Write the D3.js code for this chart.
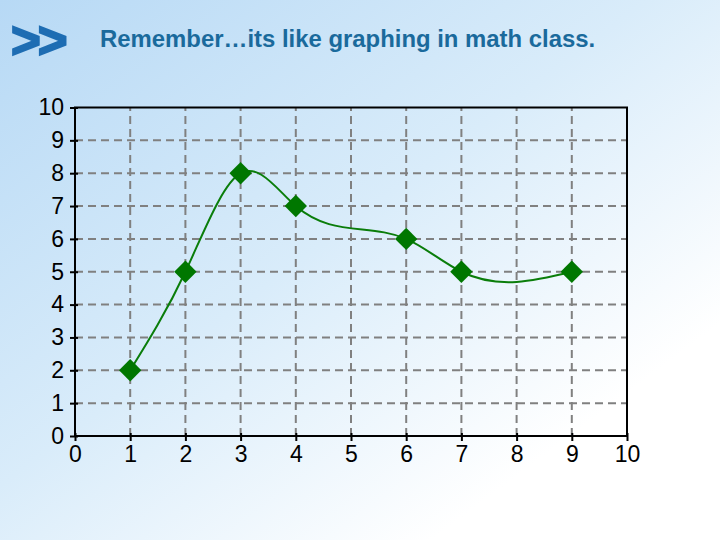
<!DOCTYPE html>
<html>
<head>
<meta charset="utf-8">
<script src="https://cdn.jsdelivr.net/npm/d3@7"></script>
<style>
  html, body { margin: 0; padding: 0; background: #fff; }
  svg { display: block; }
</style>
</head>
<body>
<script>
// data
var xValues = [1, 2, 3, 4, 6, 7, 9];
var yValues = [2, 5, 8, 7, 6, 5, 5];
var tickValues = [0, 1, 2, 3, 4, 5, 6, 7, 8, 9, 10];
var titleText = "Remember\u2026its like graphing in math class.";

var width = 720;
var height = 540;
var margin = { top: 107.5, right: 93, bottom: 104, left: 75 };

// natural cubic spline of y as a function of x, drawn as bezier pieces
// (the old chart program smooths this way, d3.curveNatural goes by index)
function curveSplineX(context) {
  var xs, ys;
  return {
    areaStart: function () {},
    areaEnd: function () {},
    lineStart: function () { xs = []; ys = []; },
    point: function (x, y) { xs.push(+x); ys.push(+y); },
    lineEnd: function () {
      var n = xs.length;
      if (!n) return;
      context.moveTo(xs[0], ys[0]);
      if (n < 3) {
        if (n === 2) context.lineTo(xs[1], ys[1]);
        return;
      }
      var h = [], s = [];
      for (var i = 0; i < n - 1; i++) {
        h[i] = xs[i + 1] - xs[i];
        s[i] = (ys[i + 1] - ys[i]) / h[i];
      }
      // second derivatives, natural ends (tridiagonal solve)
      var M = new Array(n).fill(0);
      var a = [], b = [], c = [], r = [];
      for (i = 1; i < n - 1; i++) {
        a.push(h[i - 1]);
        b.push(2 * (h[i - 1] + h[i]));
        c.push(h[i]);
        r.push(6 * (s[i] - s[i - 1]));
      }
      var m = b.length;
      for (i = 1; i < m; i++) {
        var w = a[i] / b[i - 1];
        b[i] -= w * c[i - 1];
        r[i] -= w * r[i - 1];
      }
      var sol = new Array(m);
      sol[m - 1] = r[m - 1] / b[m - 1];
      for (i = m - 2; i >= 0; i--) sol[i] = (r[i] - c[i] * sol[i + 1]) / b[i];
      for (i = 0; i < m; i++) M[i + 1] = sol[i];

      for (i = 0; i < n - 1; i++) {
        var d0 = s[i] - h[i] * (2 * M[i] + M[i + 1]) / 6;
        var d1 = s[i] + h[i] * (M[i] + 2 * M[i + 1]) / 6;
        context.bezierCurveTo(
          xs[i] + h[i] / 3, ys[i] + d0 * h[i] / 3,
          xs[i + 1] - h[i] / 3, ys[i + 1] - d1 * h[i] / 3,
          xs[i + 1], ys[i + 1]);
      }
    }
  };
}

var svg = d3.select("body").append("svg")
  .attr("width", width)
  .attr("height", height);

// slide background
var defs = svg.append("defs");
var grad = defs.append("linearGradient")
  .attr("id", "bg")
  .attr("x1", "0%").attr("y1", "0%")
  .attr("x2", "100%").attr("y2", "100%");
grad.append("stop").attr("offset", "0%").attr("stop-color", "#b7d9f5");
grad.append("stop").attr("offset", "45%").attr("stop-color", "#d9ecfa");
grad.append("stop").attr("offset", "80%").attr("stop-color", "#ffffff");

svg.append("rect")
  .attr("width", width)
  .attr("height", height)
  .attr("fill", "url(#bg)");

// header
svg.append("text")
  .attr("x", 11)
  .attr("y", 58)
  .attr("font-family", "Arial, 'Liberation Sans', sans-serif")
  .attr("font-weight", "bold")
  .attr("font-size", 51)
  .attr("letter-spacing", -3)
  .attr("fill", "#1e6db3")
  .attr("stroke", "#1e6db3")
  .attr("stroke-width", 2)
  .attr("stroke-linejoin", "miter")
  .text(">>");

svg.append("text")
  .attr("x", 100)
  .attr("y", 47)
  .attr("font-family", "Arial, 'Liberation Sans', sans-serif")
  .attr("font-weight", "bold")
  .attr("font-size", 23.9)
  .attr("fill", "#1a6a9c")
  .text(titleText);

var innerW = width - margin.left - margin.right;
var innerH = height - margin.top - margin.bottom;

var x = d3.scaleLinear().domain([0, 10]).range([0, innerW]);
var y = d3.scaleLinear().domain([0, 10]).range([innerH, 0]);

var g = svg.append("g")
  .attr("transform", "translate(" + margin.left + "," + margin.top + ")");

// dashed grid
var gridVals = tickValues.filter(function (d) { return d > 0 && d < 10; });

g.append("g").selectAll("line")
  .data(gridVals)
  .enter().append("line")
  .attr("x1", 0).attr("x2", innerW)
  .attr("y1", function (d) { return y(d); })
  .attr("y2", function (d) { return y(d); })
  .attr("stroke", "#808080")
  .attr("stroke-width", 2)
  .attr("stroke-dasharray", "8,5");

g.append("g").selectAll("line")
  .data(gridVals)
  .enter().append("line")
  .attr("y1", innerH).attr("y2", 0)
  .attr("x1", function (d) { return x(d); })
  .attr("x2", function (d) { return x(d); })
  .attr("stroke", "#808080")
  .attr("stroke-width", 2)
  .attr("stroke-dasharray", "8,5");

// frame
g.append("rect")
  .attr("width", innerW)
  .attr("height", innerH)
  .attr("fill", "none")
  .attr("stroke", "#000")
  .attr("stroke-width", 2);

// axes
var fontFam = "'Liberation Sans', Arial, sans-serif";

var yAxis = g.append("g")
  .call(d3.axisLeft(y).tickValues(tickValues).tickSize(5).tickPadding(6).tickFormat(d3.format("d")));
var xAxis = g.append("g")
  .attr("transform", "translate(0," + innerH + ")")
  .call(d3.axisBottom(x).tickValues(tickValues).tickSize(5).tickPadding(5).tickFormat(d3.format("d")));

[yAxis, xAxis].forEach(function (ax) {
  ax.select(".domain").remove();
  ax.selectAll(".tick line").attr("stroke", "#000").attr("stroke-width", 2);
  ax.selectAll(".tick text")
    .attr("font-family", fontFam)
    .attr("font-size", 23)
    .attr("fill", "#000");
});
// ticks poke a little into the plot too
yAxis.selectAll(".tick line").attr("x1", 3);
xAxis.selectAll(".tick line").attr("y1", -3);

// smooth line
var pts = xValues.map(function (d, i) { return [d, yValues[i]]; });

var line = d3.line()
  .x(function (d) { return x(d[0]); })
  .y(function (d) { return y(d[1]); })
  .curve(curveSplineX);

g.append("path")
  .datum(pts)
  .attr("d", line)
  .attr("fill", "none")
  .attr("stroke", "#0a7d0a")
  .attr("stroke-width", 2);

// diamond markers
var diamond = d3.symbol().type(d3.symbolSquare).size(250);

g.append("g").selectAll("path")
  .data(pts)
  .enter().append("path")
  .attr("d", diamond)
  .attr("transform", function (d) {
    return "translate(" + x(d[0]) + "," + y(d[1]) + ") rotate(45)";
  })
  .attr("fill", "#007700");
</script>
</body>
</html>
